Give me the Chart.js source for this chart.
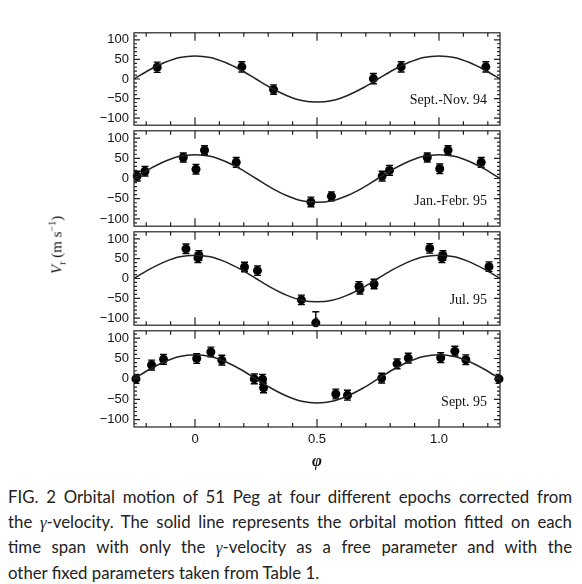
<!DOCTYPE html>
<html>
<head>
<meta charset="utf-8">
<script src="https://cdn.jsdelivr.net/npm/chart.js@4"></script>
<style>
  body { margin: 0; background: #fff; }
  #wrap { position: relative; width: 582px; height: 584px; overflow: hidden; background: #fff; }
  #wrap canvas { position: absolute; left: 0; }
  #ylab { position: absolute; left: 57px; top: 245px; transform: translate(-50%, -50%) rotate(-90deg);
          font-family: "Liberation Serif", serif; font-size: 15px; color: #111; white-space: nowrap; }
  #caption { position: absolute; left: 8px; top: 485px; width: 564px;
             font-family: Lato, "Liberation Sans", sans-serif; font-size: 16.8px; line-height: 24.6px; color: #222; }
  #caption .j { text-align: justify; text-align-last: justify; }
  #caption i { font-family: "Liberation Serif", serif; }
</style>
</head>
<body>
<div id="wrap">
  <canvas id="p0"></canvas>
  <canvas id="p1"></canvas>
  <canvas id="p2"></canvas>
  <canvas id="p3"></canvas>
  <div id="ylab"><i>V</i><sub style="font-size:10px">r</sub> (m s<sup style="font-size:10px">−1</sup>)</div>
  <div id="caption">
    <div class="j">FIG. 2 Orbital motion of 51 Peg at four different epochs corrected from</div>
    <div class="j">the <i>γ</i>-velocity. The solid line represents the orbital motion fitted on each</div>
    <div class="j">time span with only the <i>γ</i>-velocity as a free parameter and with the</div>
    <div>other fixed parameters taken from Table 1.</div>
  </div>
</div>
<script>
// panel names
var panelLabels = ['Sept.-Nov. 94', 'Jan.-Febr. 95', 'Jul. 95', 'Sept. 95'];

// fitted orbit (same for every epoch)
var curvePhase = [-0.25, -0.1875, -0.125, -0.0625, 0, 0.0625, 0.125, 0.1875, 0.25, 0.3125, 0.375, 0.4375, 0.5,
                  0.5625, 0.625, 0.6875, 0.75, 0.8125, 0.875, 0.9375, 1, 1.0625, 1.125, 1.1875, 1.25];
var curveV = [0, 23, 42, 55, 59, 55, 42, 23, 0, -23, -42, -55, -59, -55, -42, -23, 0, 23, 42, 55, 59, 55, 42, 23, 0];

// Sept.-Nov. 94
var phase94 = [-0.155, 0.192, 0.322, 0.731, 0.845, 1.192];
var v94 = [30, 31, -27, 1, 31, 31];
var err94 = [13, 13, 12, 13, 13, 13];

// Jan.-Febr. 95
var phaseJan95 = [-0.237, -0.205, -0.048, 0.004, 0.039, 0.169, 0.475, 0.559, 0.767, 0.797, 0.952, 1.003, 1.037, 1.173];
var vJan95 = [6, 18, 52, 23, 70, 40, -58, -44, 6, 20, 52, 24, 70, 40];
var errJan95 = [12, 12, 11, 12, 11, 12, 12, 11, 12, 12, 11, 12, 11, 12];

// Jul. 95
var phaseJul95 = [-0.037, 0.012, 0.016, 0.203, 0.256, 0.436, 0.495, 0.672, 0.676, 0.734, 0.962, 1.012, 1.016, 1.205];
var vJul95 = [75, 52, 58, 29, 20, -54, -112, -20, -27, -14, 76, 52, 58, 30];
var errJul95 = [12, 12, 12, 12, 12, 12, 28, 12, 12, 12, 12, 12, 12, 12];

// Sept. 95
var phaseSep95 = [-0.242, -0.178, -0.129, 0.007, 0.065, 0.110, 0.243, 0.277, 0.281, 0.577, 0.625, 0.765,
                  0.828, 0.874, 1.007, 1.065, 1.110, 1.246];
var vSep95 = [0, 34, 48, 50, 66, 46, 0, -1, -22, -37, -40, 2, 37, 51, 52, 68, 47, 0];
var errSep95 = [11, 12, 12, 12, 12, 12, 12, 12, 12, 12, 12, 12, 12, 12, 12, 12, 12, 11];

// axes
var xTickLabels = [0, 0.5, 1.0];
var xMinorTicks = [-0.2, -0.1, 0, 0.1, 0.2, 0.3, 0.4, 0.5, 0.6, 0.7, 0.8, 0.9, 1.0, 1.1, 1.2];
var yTickLabels = [-100, -50, 0, 50, 100];
var yMinorTicks = [-110, -100, -90, -80, -70, -60, -50, -40, -30, -20, -10, 0, 10, 20, 30, 40, 50, 60, 70, 80, 90, 100, 110];

var panels = [
    { phase: phase94, v: v94, err: err94 },
    { phase: phaseJan95, v: vJan95, err: errJan95 },
    { phase: phaseJul95, v: vJul95, err: errJul95 },
    { phase: phaseSep95, v: vSep95, err: errSep95 }
];

var panelTop = [30, 128, 229, 328];
var panelH = [98, 101, 99, 99];

var panelPlugin = {
    id: 'panel',
    beforeDatasetsDraw: function(chart, args, opts) {
        var ctx = chart.ctx, a = chart.chartArea;
        var ys = chart.scales.y;
        ctx.save();
        // error bars
        ctx.beginPath();
        ctx.rect(a.left, a.top, a.right - a.left, a.bottom - a.top);
        ctx.clip();
        ctx.strokeStyle = '#000';
        ctx.lineWidth = 1.4;
        chart.data.datasets.forEach(function(ds, i) {
            if (!ds.errors) return;
            chart.getDatasetMeta(i).data.forEach(function(pt, j) {
                var v = ds.data[j].y, e = ds.errors[j];
                var y1 = ys.getPixelForValue(v + e), y2 = ys.getPixelForValue(v - e);
                ctx.beginPath();
                ctx.moveTo(pt.x, y1); ctx.lineTo(pt.x, y2);
                ctx.moveTo(pt.x - 3.5, y1); ctx.lineTo(pt.x + 3.5, y1);
                ctx.moveTo(pt.x - 3.5, y2); ctx.lineTo(pt.x + 3.5, y2);
                ctx.stroke();
            });
        });
        ctx.restore();
    },
    afterDatasetsDraw: function(chart, args, opts) {
        var ctx = chart.ctx, a = chart.chartArea;
        var xs = chart.scales.x, ys = chart.scales.y;
        ctx.save();
        ctx.strokeStyle = '#222';
        ctx.lineWidth = 1.2;
        ctx.strokeRect(a.left, a.top, a.right - a.left, a.bottom - a.top);
        ctx.beginPath();
        xMinorTicks.forEach(function(t) {
            var px = xs.getPixelForValue(t);
            var len = xTickLabels.indexOf(t) >= 0 ? 8 : 4;
            ctx.moveTo(px, a.top); ctx.lineTo(px, a.top + len);
            ctx.moveTo(px, a.bottom); ctx.lineTo(px, a.bottom - len);
        });
        yMinorTicks.forEach(function(t) {
            var py = ys.getPixelForValue(t);
            var len = yTickLabels.indexOf(t) >= 0 ? 6 : 3;
            ctx.moveTo(a.left, py); ctx.lineTo(a.left + len, py);
            ctx.moveTo(a.right, py); ctx.lineTo(a.right - len, py);
        });
        ctx.stroke();
        // epoch label
        ctx.fillStyle = '#111';
        ctx.font = '14px "Liberation Serif", serif';
        ctx.textAlign = 'right';
        ctx.textBaseline = 'middle';
        ctx.fillText(opts.label, a.right - 13, a.bottom - 25);
        ctx.restore();
    }
};

panels.forEach(function(p, i) {
    var last = (i === panels.length - 1);
    var canvas = document.getElementById('p' + i);
    var padTop = 10;
    var bottomExtra = last ? 50 : 10;
    canvas.width = 520;
    canvas.height = padTop + panelH[i] + bottomExtra;
    canvas.style.top = (panelTop[i] - padTop) + 'px';

    var points = p.phase.map(function(ph, j) { return { x: ph, y: p.v[j] }; });
    var curve = curvePhase.map(function(ph, j) { return { x: ph, y: curveV[j] }; });

    new Chart(canvas.getContext('2d'), {
        type: 'scatter',
        data: {
            datasets: [{
                data: curve,
                showLine: true,
                pointRadius: 0,
                borderColor: '#222',
                borderWidth: 1.5,
                cubicInterpolationMode: 'monotone',
                clip: false
            }, {
                data: points,
                errors: p.err,
                pointRadius: 4.5,
                pointHoverRadius: 4.5,
                backgroundColor: '#000',
                borderColor: '#000',
                borderWidth: 0,
                clip: false
            }]
        },
        options: {
            responsive: false,
            animation: false,
            devicePixelRatio: 1,
            layout: { padding: { left: 0, right: 20, top: padTop, bottom: last ? 5 : 10 } },
            plugins: {
                legend: { display: false },
                tooltip: { enabled: false },
                panel: { label: panelLabels[i] }
            },
            scales: {
                x: {
                    type: 'linear',
                    min: -0.25,
                    max: 1.25,
                    display: last,
                    grid: { display: false, drawTicks: false },
                    border: { display: false },
                    afterBuildTicks: function(s) { s.ticks = xTickLabels.map(function(v) { return { value: v }; }); },
                    afterFit: function(s) { s.height = last ? 45 : 0; },
                    ticks: {
                        padding: 5,
                        color: '#111',
                        font: { family: '"Liberation Sans", sans-serif', size: 13 },
                        callback: function(v) { return v === 0 ? '0' : v.toFixed(1); }
                    },
                    title: {
                        display: true,
                        text: 'φ',
                        color: '#111',
                        padding: { top: 11, bottom: 0 },
                        font: { family: '"Liberation Serif", serif', size: 17, style: 'italic', weight: 'bold' }
                    }
                },
                y: {
                    min: -118,
                    max: 118,
                    grid: { display: false, drawTicks: false },
                    border: { display: false },
                    afterBuildTicks: function(s) { s.ticks = yTickLabels.map(function(v) { return { value: v }; }); },
                    afterFit: function(s) { s.width = 134; },
                    ticks: {
                        padding: 5,
                        color: '#111',
                        font: { family: '"Liberation Sans", sans-serif', size: 13 },
                        callback: function(v) { return v < 0 ? '\u2212' + Math.abs(v) : String(v); }
                    }
                }
            }
        },
        plugins: [panelPlugin]
    });
});
</script>
</body>
</html>
